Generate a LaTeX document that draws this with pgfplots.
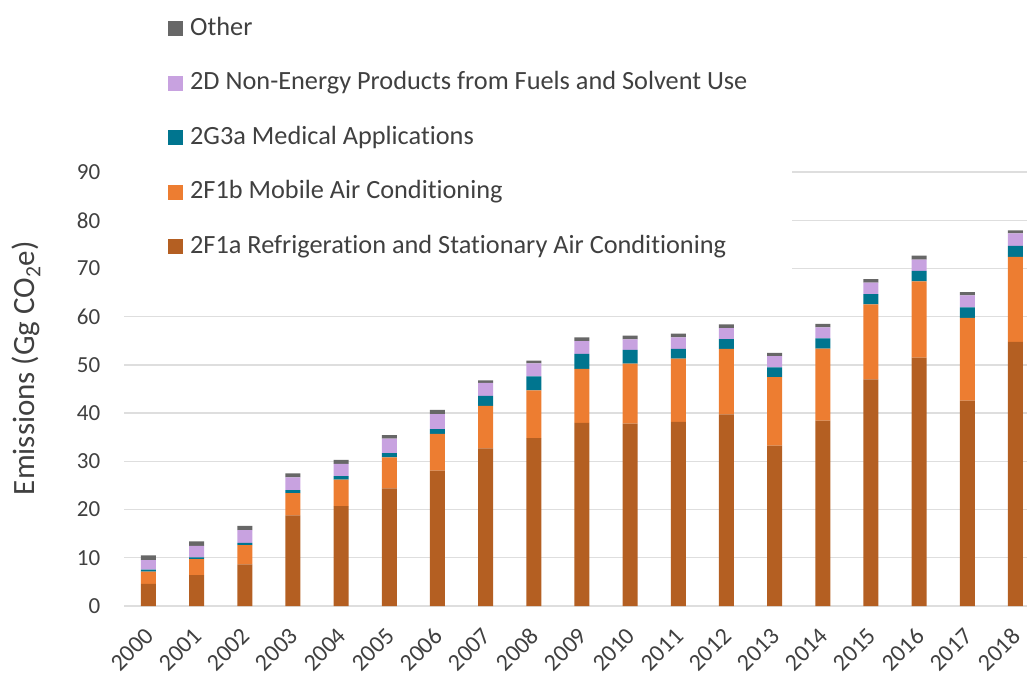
\documentclass[border=0pt]{standalone}
\usepackage{fontspec}
\setmainfont{Carlito}[Ligatures={NoCommon}]
\usepackage{pgfplots}
\usepackage{pgfplotstable}
\pgfplotsset{compat=1.18}
\definecolor{cBrown}{HTML}{B45F22}
\definecolor{cOrange}{HTML}{ED7D31}
\definecolor{cTeal}{HTML}{00758F}
\definecolor{cPurple}{HTML}{C8A2E0}
\definecolor{cOther}{HTML}{676767}
\definecolor{gridgray}{HTML}{DEDEDE}
\definecolor{txt}{HTML}{404040}
\pgfplotstableread{
x year ref mob med nonen other
0 2000 4.60 2.55 0.40 1.95 1.00
1 2001 6.40 3.30 0.40 2.35 0.95
2 2002 8.65 4.00 0.45 2.65 0.85
3 2003 18.80 4.60 0.65 2.65 0.80
4 2004 20.70 5.50 0.75 2.50 0.85
5 2005 24.40 6.40 0.90 3.00 0.75
6 2006 28.10 7.60 1.00 3.10 0.85
7 2007 32.70 8.80 2.05 2.70 0.55
8 2008 34.80 9.90 2.90 2.70 0.60
9 2009 38.00 11.15 3.15 2.65 0.75
10 2010 37.80 12.45 2.85 2.20 0.75
11 2011 38.20 13.10 2.00 2.40 0.80
12 2012 39.75 13.55 2.05 2.30 0.75
13 2013 33.25 14.20 2.05 2.30 0.70
14 2014 38.45 14.90 2.15 2.30 0.70
15 2015 47.00 15.55 2.15 2.35 0.75
16 2016 51.50 15.80 2.20 2.35 0.80
17 2017 42.60 17.15 2.20 2.45 0.70
18 2018 54.75 17.65 2.30 2.60 0.60
}\datatable
\begin{document}
\begin{tikzpicture}[x=1pt,y=1pt]
\path[use as bounding box] (-124.4,-69) rectangle (902.6,606);
\begin{axis}[
  at={(0,0)}, anchor=south west,
  scale only axis, width=902.6pt, height=434pt,
  ybar stacked, bar width=15pt,
  xmin=-0.5, xmax=18.24, ymin=0, ymax=90,
  enlargelimits=false,
  xtick={0,...,18},
  xticklabels={2000,2001,2002,2003,2004,2005,2006,2007,2008,2009,2010,2011,2012,2013,2014,2015,2016,2017,2018},
  ytick={0,10,...,90},
  ymajorgrids, grid style={draw=gridgray, line width=1.3pt},
  axis line style={draw=none},
  major tick length=0pt,
  /pgf/number format/assume math mode=true,
  tick label style={text=txt},
  yticklabel style={anchor=east, inner sep=0pt, xshift=-24pt, font=\fontsize{23}{27}\selectfont},
  xticklabel style={inner sep=0pt, anchor=east, yshift=-26pt, xshift=1pt, rotate=45, font=\fontsize{24}{28}\selectfont},
  ylabel={Emissions (Gg CO\textsubscript{2}e)},
  ylabel style={at={(axis description cs:-0.1086,0.548)}, anchor=center, font=\fontsize{31}{35}\selectfont, text=txt},
  reverse legend,
  legend cell align=left,
  legend image code/.code={\fill[#1] (0pt,-7.5pt) rectangle (15pt,7.5pt);},
  legend style={at={(axis description cs:-0.0016,1.3963)}, anchor=north west,
    fill=white, draw=none, inner xsep=45pt, inner ysep=16pt,
    font=\fontsize{26.3}{30}\selectfont, text=txt,
    nodes={inner sep=0pt, text height=19pt, text depth=6pt},
    row sep=29.5pt,
    /tikz/every odd column/.style={column sep=7pt}},
]
\addplot[fill=cBrown, draw=none] table[x=x,y=ref]{\datatable};
\addplot[fill=cOrange, draw=none] table[x=x,y=mob]{\datatable};
\addplot[fill=cTeal, draw=none] table[x=x,y=med]{\datatable};
\addplot[fill=cPurple, draw=none] table[x=x,y=nonen]{\datatable};
\addplot[fill=cOther, draw=none] table[x=x,y=other]{\datatable};
\legend{2F1a Refrigeration and Stationary Air Conditioning,2F1b Mobile Air Conditioning,2G3a Medical Applications,2D Non-Energy Products from Fuels and Solvent Use,Other}
\end{axis}
\end{tikzpicture}
\end{document}
